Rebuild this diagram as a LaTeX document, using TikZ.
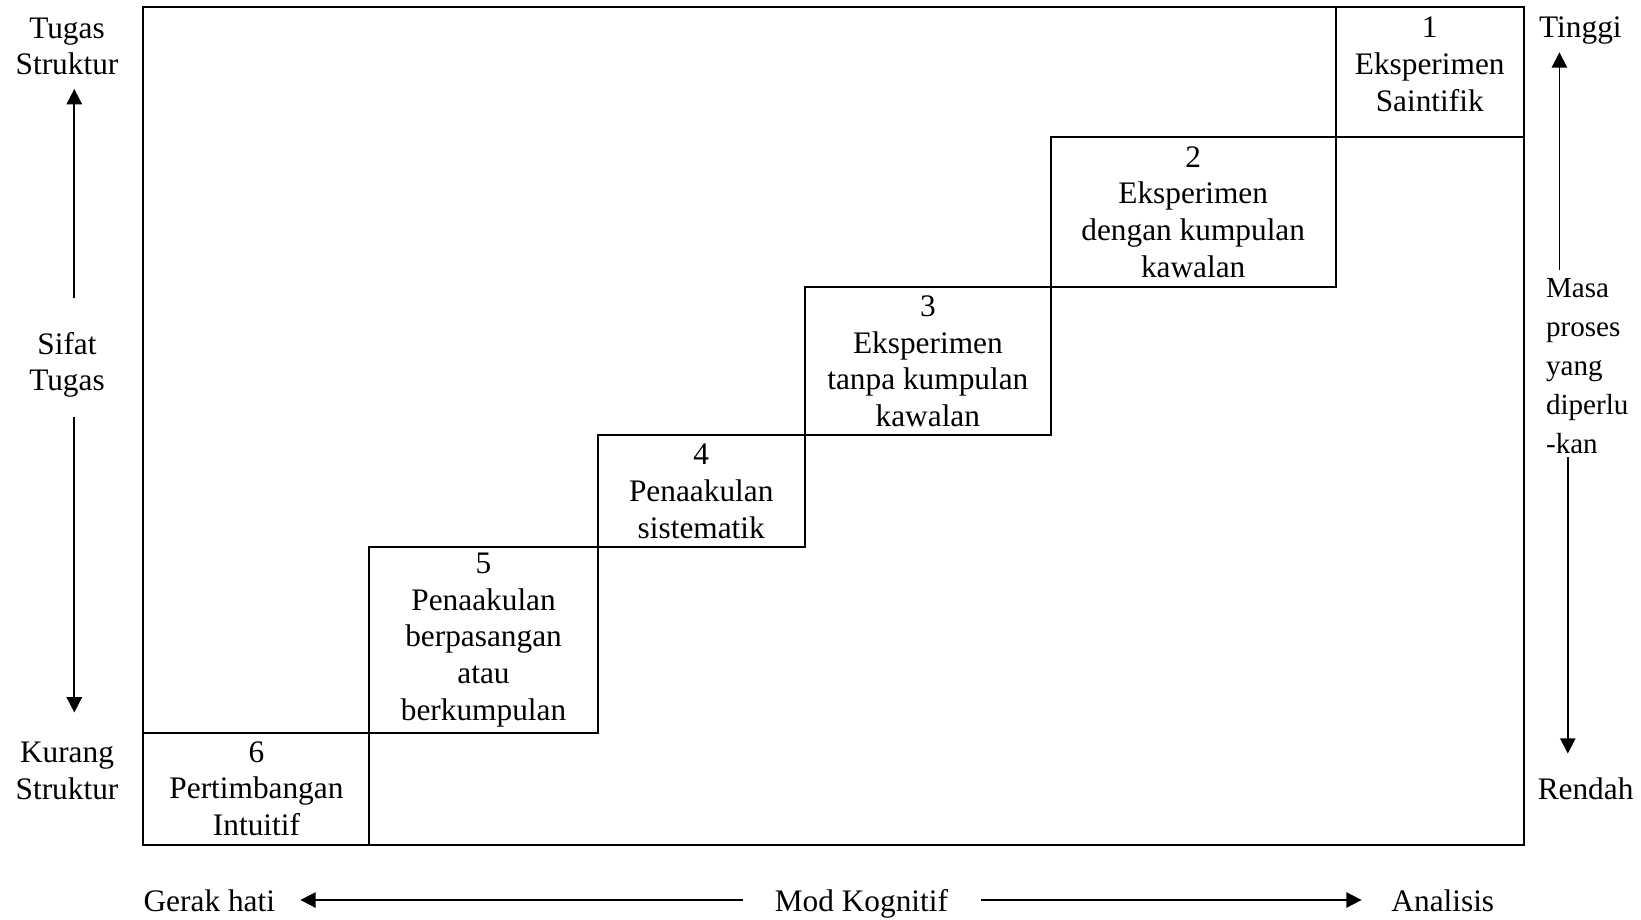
\documentclass[tikz,border=0pt]{standalone}
\usepackage{fontspec}
\setmainfont{Liberation Serif}
\usetikzlibrary{arrows.meta}

\begin{document}
\begin{tikzpicture}[x=0.75pt, y=-0.75pt,
    lbl/.style={inner sep=0pt, align=center, font=\fontsize{23.5}{27.5}\selectfont},
    stepbox/.style={draw, line width=1.5pt, inner sep=0pt, outer sep=0pt, align=center,
        font=\fontsize{23.5}{27.5}\selectfont},
    axis/.style={-{Triangle[length=11.5pt,width=11.5pt]}, line width=1.3pt}]
    \useasboundingbox (0,0) rectangle (1641,920);
    % frame and the six steps
    \node[stepbox, minimum width=1035.4pt, minimum height=628pt] (frame) at (833.65,425.95) {};
    \node[stepbox, minimum width=141.3pt, minimum height=97.35pt, anchor=north east] (s1) at (frame.north east) {};
    \node[lbl] (t1) at ([yshift=6pt]s1.center) {1\\Eksperimen\\Saintifik};
    \node[stepbox, minimum width=213.5pt, minimum height=112.3pt, anchor=north east] (s2) at (s1.south west)
        {2\\Eksperimen\\dengan kumpulan\\kawalan};
    \node[stepbox, minimum width=184.5pt, minimum height=111.45pt, anchor=north east] (s3) at (s2.south west)
        {3\\Eksperimen\\tanpa kumpulan\\kawalan};
    \node[stepbox, minimum width=155.4pt, minimum height=84pt, anchor=north east] (s4) at (s3.south west)
        {4\\Penaakulan\\sistematik};
    \node[stepbox, minimum width=171.15pt, minimum height=138.9pt, anchor=north east] (s5) at (s4.south west)
        {5\\Penaakulan\\berpasangan\\atau\\berkumpulan};
    \node[stepbox, minimum width=169.5pt, minimum height=84pt, anchor=north east] (s6) at (s5.south west)
        {6\\Pertimbangan\\Intuitif};

    % left side: sifat tugas
    \node[lbl] (tugas) at (67,46.5) {Tugas\\Struktur};
    \node[lbl] (sifat) at (67,365) {Sifat\\Tugas};
    \node[lbl] (kurang) at (67,771) {Kurang\\Struktur};
    \coordinate (sifatup) at (74.3,298.3);
    \coordinate (sifattop) at (74.3,89);
    \coordinate (sifatdown) at (74.3,416.5);
    \coordinate (sifatbot) at (74.3,712.5);
    \draw[axis] (sifatup) -- (sifattop);
    \draw[axis] (sifatdown) -- (sifatbot);

    % right side: masa proses
    \node[lbl] (tinggi) at (1580.4,30.4) {Tinggi};
    \node[lbl, align=left, anchor=north west, font=\fontsize{21.8}{29.2}\selectfont] (masa) at (1545.8,278.5)
        {Masa\\proses\\yang\\diperlu\\-kan};
    \node[lbl] (rendah) at (1585.6,788.6) {Rendah};
    \coordinate (masaup) at (1559.4,270);
    \coordinate (masatop) at (1559.4,52.3);
    \coordinate (masadown) at (1567.8,457.4);
    \coordinate (masabot) at (1567.8,753.6);
    \draw[axis] (masaup) -- (masatop);
    \draw[axis] (masadown) -- (masabot);

    % bottom: mod kognitif
    \node[lbl, anchor=base] (gerak) at (209.3,911.6) {Gerak hati};
    \node[lbl, anchor=base] (mod) at (861.4,911.6) {Mod Kognitif};
    \node[lbl, anchor=base] (analisis) at (1442.8,911.6) {Analisis};
    \coordinate (modleft) at (743,900);
    \coordinate (gerakend) at (300.4,900);
    \coordinate (modright) at (980.7,900);
    \coordinate (analisisend) at (1361.6,900);
    \draw[axis] (modleft) -- (gerakend);
    \draw[axis] (modright) -- (analisisend);
\end{tikzpicture}
\end{document}
